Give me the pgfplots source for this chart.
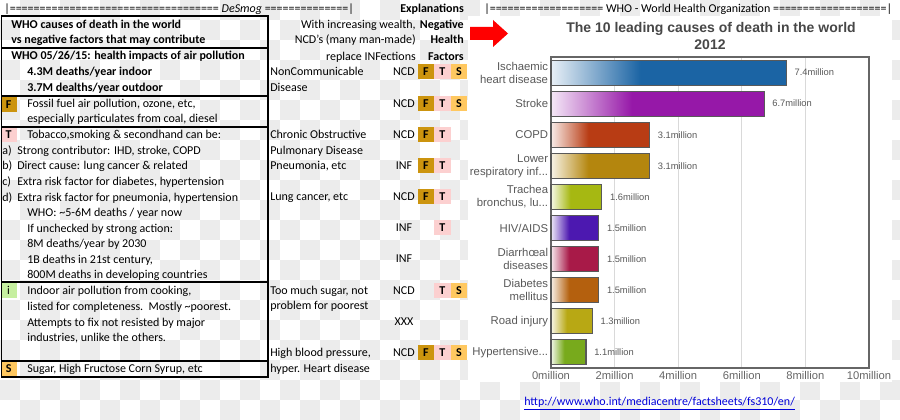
\documentclass[border=0pt]{standalone}
\usepackage{fontspec}
\setmainfont{Carlito}
\newfontfamily\arialf{Liberation Sans}
\usepackage{pgfplots}
\pgfplotsset{compat=1.18}

\definecolor{chk}{HTML}{ECECEC}
\definecolor{cF}{HTML}{CC940E}
\definecolor{cT}{HTML}{FCD0D0}
\definecolor{cS}{HTML}{FFC860}
\definecolor{cI}{HTML}{C6EFA0}
\definecolor{cIHD}{HTML}{1B64A4}
\definecolor{cStroke}{HTML}{9618A8}
\definecolor{cCOPD}{HTML}{B83C14}
\definecolor{cLRI}{HTML}{B4860E}
\definecolor{cTBL}{HTML}{A6B812}
\definecolor{cHIV}{HTML}{4C18B0}
\definecolor{cDiar}{HTML}{A81A48}
\definecolor{cDiab}{HTML}{B4600E}
\definecolor{cRoad}{HTML}{B8A814}
\definecolor{cHyp}{HTML}{78AA1C}

% bar shading: pale at the left, full colour from ~38% of the bar on
\newcommand\mkshade[2]{\pgfdeclarehorizontalshading{#1}{100bp}{color(0bp)=(#2!10!white); color(25bp)=(#2!10!white); color(44bp)=(#2); color(100bp)=(#2)}}
\mkshade{sIHD}{cIHD}\mkshade{sStroke}{cStroke}\mkshade{sCOPD}{cCOPD}
\mkshade{sLRI}{cLRI}\mkshade{sTBL}{cTBL}\mkshade{sHIV}{cHIV}
\mkshade{sDiar}{cDiar}\mkshade{sDiab}{cDiab}\mkshade{sRoad}{cRoad}
\mkshade{sHyp}{cHyp}

\newcommand\el{...}
\newcommand\tf{\fontsize{9}{11}\selectfont}
\newcommand\eqs[1]{\foreach\k in {1,...,#1}{=}}
% text line: x, visual centre y, text
\newcommand\lt[3]{\node[anchor=base west,inner sep=0,font=\tf] at (#1,#2+4) {#3};}
\newcommand\rt[3]{\node[anchor=base east,inner sep=0,font=\tf] at (#1,#2+4) {#3};}
\newcommand\ct[3]{\node[anchor=base,inner sep=0,font=\tf] at (#1,#2+4) {#3};}
% badge: left x, centre y, colour, letter
\newcommand\badge[4]{\fill[#3] (#1,#2-7.5) rectangle ++(16.5,15);
  \node[font=\tf\bfseries,inner sep=0,anchor=base] at (#1+8.2,#2+4) {#4};}

\begin{document}
\begin{tikzpicture}
\begin{scope}[x=0.75pt,y=-0.75pt]
\path[use as bounding box] (0,0) rectangle (900,420);
\foreach \i in {0,...,44}{\foreach \j in {0,...,20}{
  \pgfmathparse{int(mod(\i+\j,2))}
  \ifnum\pgfmathresult=1 \fill[chk] (\i*20,\j*20) rectangle ++(20,20);\fi}}
\fill[white] (468,16) rectangle (892,382);

% left panel
\lt{4}{8.5}{|\eqs{35} \textit{DeSmog} \eqs{14}|}
\badge{0.5}{104.2}{cF}{F}
\badge{0.5}{135}{cT}{T}
\fill[cI] (0.5,283) rectangle ++(16,15);
\node[font=\tf,inner sep=0,anchor=base] at (8.5,294.5) {i};
\badge{0.5}{369}{cS}{S}
\foreach \a/\b in {16/48.3,48.3/95.7,95.7/126.7,126.7/282.3,282.3/360.7,360.7/376.7}{
  \draw[line width=1.4pt] (1.5,\a) rectangle (267.7,\b);}

\lt{11}{24.3}{\bfseries WHO causes of death in the world}
\lt{11}{40}{\bfseries vs negative factors that may contribute}
\lt{11}{56}{\bfseries WHO 05/26/15: health impacts of air pollution}
\lt{27}{71.7}{\bfseries 4.3M deaths/year indoor}
\lt{27}{87.3}{\bfseries 3.7M dealths/year outdoor}
\lt{27}{104}{Fossil fuel air pollution, ozone, etc,}
\lt{27}{118.5}{especially particulates from coal, diesel}
\lt{27}{135}{Tobacco,smoking \& secondhand can be:}
\lt{2}{151}{a)}\lt{17}{151}{Strong contributor: IHD, stroke, COPD}
\lt{2}{166}{b)}\lt{17}{166}{Direct cause: lung cancer \& related}
\lt{2}{181.7}{c)}\lt{17}{181.7}{Extra risk factor for diabetes, hypertension}
\lt{2}{197.3}{d)}\lt{17}{197.3}{Extra risk factor for pneumonia, hypertension}
\lt{27}{212.7}{WHO: \textasciitilde 5-6M deaths / year now}
\lt{27}{228.3}{If unchecked by strong action:}
\lt{27}{244}{8M deaths/year by 2030}
\lt{27}{259.3}{1B deaths in 21st century,}
\lt{27}{274.3}{800M deaths in developing countries}
\lt{27}{291}{Indoor air pollution from cooking,}
\lt{27}{306.7}{listed for completeness.\ \ Mostly \textasciitilde poorest.}
\lt{27}{322.3}{Attempts to fix not resisted by major}
\lt{27}{338}{industries, unlike the others.}
\lt{27}{369}{Sugar, High Fructose Corn Syrup, etc}

% explanations column
\lt{400}{8.5}{\bfseries Explanations}
\rt{416}{24.5}{With increasing wealth,}
\rt{416}{40}{NCD’s (many man-made)}
\rt{416}{56.5}{replace INFections}
\rt{464}{24.5}{\bfseries Negative}
\rt{464}{40}{\bfseries Health}
\rt{464}{56.5}{\bfseries Factors}
\lt{270}{71.5}{NonCommunicable}
\lt{270}{87.3}{Disease}
\lt{270}{135}{Chronic Obstructive}
\lt{270}{151}{Pulmonary Disease}
\lt{270}{166}{Pneumonia, etc}
\lt{270}{197}{Lung cancer, etc}
\lt{270}{290.7}{Too much sugar, not}
\lt{270}{306}{problem for poorest}
\lt{270}{352.5}{High blood pressure,}
\lt{270}{369}{hyper. Heart disease}
\foreach \y/\lab in {71.5/NCD,103.5/NCD,135/NCD,166/INF,197/NCD,228/INF,259/INF,290.5/NCD,321.5/XXX,352.5/NCD}{
  \ct{404}{\y}{\lab}}
\foreach \y in {71.5,103.5,352.5}{\badge{417.7}{\y}{cF}{F}\badge{434.2}{\y}{cT}{T}\badge{450.7}{\y}{cS}{S}}
\foreach \y in {135,166,197}{\badge{417.7}{\y}{cF}{F}\badge{434.2}{\y}{cT}{T}}
\badge{434.2}{228}{cT}{T}
\badge{434.2}{290.5}{cT}{T}\badge{450.7}{290.5}{cS}{S}

% right panel
\fill[red] (470,27) -- (493,27) -- (493,20) -- (508,33.5) -- (493,47) -- (493,40) -- (470,40) -- cycle;
\lt{484}{9}{|\eqs{19} WHO - World Health Organization \eqs{19}|}
\node[font=\arialf\bfseries\fontsize{10.5}{12}\selectfont,text=black!72,inner sep=0] at (711,29) {The 10 leading causes of death in the world};
\node[font=\arialf\bfseries\fontsize{10.5}{12}\selectfont,text=black!72,inner sep=0] at (710,44.5) {2012};
\node[anchor=base west,inner sep=0,font=\tf,text=blue!85!black] at (524,405) {\underline{http://www.who.int/mediacentre/factsheets/fs310/en/}};
\coordinate (axnw) at (551,57);
\end{scope}

\begin{axis}[
  at={(axnw)}, anchor=north west,
  scale only axis, width=238.5pt, height=233.25pt,
  xmin=0, xmax=10, ymin=-0.5, ymax=9.5,
  xbar, bar width=18.75pt, bar shift=0pt,
  axis line style={draw=black!60, line width=1.2pt},
  xmajorgrids, grid style={draw=black!15, line width=0.9pt},
  major tick length=0pt,
  xtick={0,2,4,6,8,10},
  xticklabels={0million,2million,4million,6million,8million,10million},
  ytick={0,1,2,3,4,5,6,7,8,9},
  yticklabels={Hypertensive\el,Road injury,{Diabetes\\mellitus},{Diarrhœal\\diseases},HIV/AIDS,{Trachea\\bronchus, lu\el},{Lower\\respiratory inf\el},COPD,Stroke,{Ischaemic\\heart disease}},
  xticklabel style={font=\arialf\fontsize{8.4}{9.5}\selectfont, text=black!60, inner sep=2pt},
  yticklabel style={font=\arialf\fontsize{8.5}{9.75}\selectfont, text=black!65, align=right, inner sep=2pt},
  point meta=x,
  nodes near coords={\pgfmathprintnumber[fixed,fixed zerofill,precision=1,assume math mode=true]{\pgfplotspointmeta}million},
  every node near coord/.append style={font=\arialf\fontsize{7}{8}\selectfont, text=black!65, anchor=west, xshift=2.5pt},
  clip=false,
]
\addplot[draw=black!65, line width=0.8pt, shading=sIHD] coordinates {(7.4,9)};
\addplot[draw=black!65, line width=0.8pt, shading=sStroke] coordinates {(6.7,8)};
\addplot[draw=black!65, line width=0.8pt, shading=sCOPD] coordinates {(3.1,7)};
\addplot[draw=black!65, line width=0.8pt, shading=sLRI] coordinates {(3.1,6)};
\addplot[draw=black!65, line width=0.8pt, shading=sTBL] coordinates {(1.6,5)};
\addplot[draw=black!65, line width=0.8pt, shading=sHIV] coordinates {(1.5,4)};
\addplot[draw=black!65, line width=0.8pt, shading=sDiar] coordinates {(1.5,3)};
\addplot[draw=black!65, line width=0.8pt, shading=sDiab] coordinates {(1.5,2)};
\addplot[draw=black!65, line width=0.8pt, shading=sRoad] coordinates {(1.3,1)};
\addplot[draw=black!65, line width=0.8pt, shading=sHyp] coordinates {(1.1,0)};
\end{axis}
\end{tikzpicture}
\end{document}
